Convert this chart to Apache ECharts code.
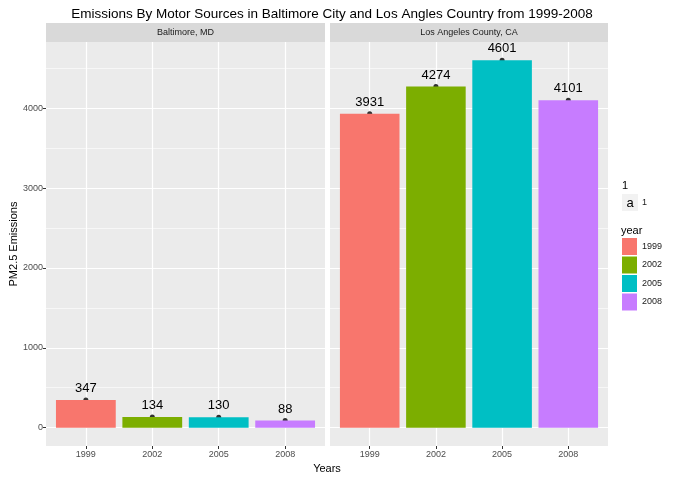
<!DOCTYPE html>
<html><head><meta charset="utf-8">
<script src="https://cdn.jsdelivr.net/npm/echarts@6/dist/echarts.min.js"></script>
<style>html,body{margin:0;padding:0;background:#fff}#c{width:680px;height:480px}</style>
</head><body><div id="c"></div>
<script>
// ---- data ----
const years = ['1999', '2002', '2005', '2008'];
const panels = ['Baltimore, MD', 'Los Angeles County, CA'];
const baltimore = [347, 134, 130, 88];
const losAngeles = [3931, 4274, 4601, 4101];
const yMajorTicks = [0, 1000, 2000, 3000, 4000];
const yMinorTicks = [500, 1500, 2500, 3500, 4500];
const palette = ['#F8766D', '#7CAE00', '#00BFC4', '#C77CFF'];
const panelValues = [baltimore, losAngeles];

const FONT = '"Liberation Sans", Arial, sans-serif';
const gridRects = [
  {left: 46, top: 42, width: 279, height: 404},
  {left: 330, top: 42, width: 278, height: 404}
];
const xPositions = years.map((_, i) => i);

const grid = gridRects.map(r => Object.assign({
  show: true, backgroundColor: '#EBEBEB', borderWidth: 0, containLabel: false, outerBoundsMode: 'none'
}, r));

const xAxis = gridRects.map((_, p) => ({
  type: 'value', gridIndex: p, min: -0.6, max: 3.6,
  axisLine: {show: false, onZero: false},
  axisTick: {show: true, customValues: xPositions, length: 3, lineStyle: {color: '#333333', width: 1}},
  axisLabel: {show: true, customValues: xPositions, formatter: v => years[Math.round(v)],
    fontSize: 9, color: '#4D4D4D', margin: 4, fontFamily: FONT},
  splitLine: {show: true, lineStyle: {color: '#FFFFFF', width: 1.2}}
}));

const yAxis = [];
gridRects.forEach((_, p) => {
  yAxis.push({
    type: 'value', gridIndex: p, min: -230, max: 4831, position: 'left',
    name: p === 0 ? 'PM2.5 Emissions' : '', nameLocation: 'middle', nameGap: 27,
    nameTextStyle: {fontSize: 11, color: '#000', fontFamily: FONT},
    axisLine: {show: false, onZero: false},
    axisTick: {show: p === 0, customValues: yMajorTicks, length: 3, lineStyle: {color: '#333333', width: 1}},
    axisLabel: {show: p === 0, customValues: yMajorTicks, formatter: v => String(v),
      fontSize: 9, color: '#4D4D4D', margin: 3, fontFamily: FONT},
    splitLine: {show: true, lineStyle: {color: '#FFFFFF', width: 1.2}}
  });
  yAxis.push({
    type: 'value', gridIndex: p, min: -230, max: 4831, position: 'right',
    axisLine: {show: false, onZero: false},
    axisTick: {show: false, customValues: yMinorTicks},
    axisLabel: {show: false, customValues: yMinorTicks},
    splitLine: {show: true, lineStyle: {color: '#FFFFFF', width: 0.6}}
  });
});

const series = [];
panelValues.forEach((vals, p) => {
  series.push({
    type: 'scatter', name: 'pt' + p, xAxisIndex: p, yAxisIndex: p * 2, z: 1,
    symbol: 'circle', symbolSize: 5, itemStyle: {color: '#000'}, silent: true,
    data: vals.map((v, i) => [i, v])
  });
  years.forEach((y, i) => {
    series.push({
      type: 'bar', name: y, xAxisIndex: p, yAxisIndex: p * 2, z: 2,
      barWidth: '90%', barGap: '-100%',
      itemStyle: {color: palette[i]},
      label: {show: true, position: 'top', distance: 5, formatter: d => String(d.value[1]),
        fontSize: 13, color: '#000', fontFamily: FONT},
      data: [[i, vals[i]]]
    });
  });
});

const graphic = [];
gridRects.forEach((r, p) => {
  graphic.push({type: 'rect', left: r.left, top: 23, shape: {width: r.width, height: 19},
    style: {fill: '#D9D9D9'}, silent: true});
  graphic.push({type: 'text', x: r.left + r.width / 2, y: 32.5,
    style: {text: panels[p], fill: '#1A1A1A', font: '9px ' + FONT, textAlign: 'center', textVerticalAlign: 'middle'}});
});
graphic.push({type: 'text', x: 327, y: 469,
  style: {text: 'Years', fill: '#000', font: '11px ' + FONT, textAlign: 'center', textVerticalAlign: 'middle'}});
graphic.push({type: 'text', x: 622, y: 186,
  style: {text: '1', fill: '#000', font: '11px ' + FONT, textAlign: 'left', textVerticalAlign: 'middle'}});
graphic.push({type: 'rect', left: 622, top: 194, shape: {width: 16, height: 17}, style: {fill: '#F2F2F2'}});
graphic.push({type: 'text', x: 630, y: 203,
  style: {text: 'a', fill: '#000', font: '13px ' + FONT, textAlign: 'center', textVerticalAlign: 'middle'}});
graphic.push({type: 'text', x: 642, y: 203,
  style: {text: '1', fill: '#1A1A1A', font: '9px ' + FONT, textAlign: 'left', textVerticalAlign: 'middle'}});
graphic.push({type: 'text', x: 621, y: 231,
  style: {text: 'year', fill: '#000', font: '11px ' + FONT, textAlign: 'left', textVerticalAlign: 'middle'}});

const option = {
  backgroundColor: '#FFFFFF',
  animation: false,
  title: {
    text: 'Emissions By Motor Sources in Baltimore City and Los Angles Country from 1999-2008',
    left: 327, top: 2, textAlign: 'center',
    textStyle: {fontSize: 13.5, fontWeight: 'normal', color: '#000', fontFamily: FONT}
  },
  legend: {
    data: years, orient: 'vertical', left: 622, top: 238, padding: 0,
    itemWidth: 15, itemHeight: 17, itemGap: 1.5, icon: 'rect', selectedMode: false,
    textStyle: {fontSize: 9, color: '#1A1A1A', fontFamily: FONT}
  },
  grid, xAxis, yAxis, series, graphic
};

const chart = echarts.init(document.getElementById('c'), null, {renderer: 'canvas'});
chart.setOption(option);
</script>
</body></html>
